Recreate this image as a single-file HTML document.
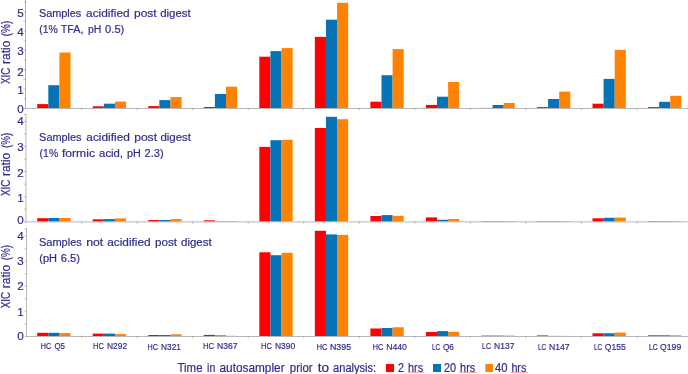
<!DOCTYPE html>
<html><head><meta charset="utf-8"><style>
html,body{margin:0;padding:0;background:#fff;}
svg{display:block;}
text{font-family:"Liberation Sans",sans-serif;fill:#2E2D88;stroke:#2E2D88;stroke-width:0.2px;}
svg{will-change:transform;}
</style></head><body>
<svg width="688" height="374" viewBox="0 0 688 374">
<rect width="688" height="374" fill="#fff"/>
<rect x="37.21" y="104.10" width="11.11" height="3.90" fill="#FF0000"/>
<rect x="48.31" y="85.20" width="11.11" height="22.80" fill="#0673B6"/>
<rect x="59.42" y="52.50" width="11.11" height="55.50" fill="#FF8200"/>
<rect x="92.74" y="106.30" width="11.11" height="1.70" fill="#FF0000"/>
<rect x="103.84" y="103.70" width="11.11" height="4.30" fill="#0673B6"/>
<rect x="114.95" y="101.60" width="11.11" height="6.40" fill="#FF8200"/>
<rect x="148.27" y="106.10" width="11.11" height="1.90" fill="#FF0000"/>
<rect x="159.37" y="100.10" width="11.11" height="7.90" fill="#0673B6"/>
<rect x="170.48" y="97.10" width="11.11" height="10.90" fill="#FF8200"/>
<rect x="203.80" y="107.00" width="11.11" height="1.00" fill="#FF0000"/>
<rect x="214.90" y="94.00" width="11.11" height="14.00" fill="#0673B6"/>
<rect x="226.01" y="86.70" width="11.11" height="21.30" fill="#FF8200"/>
<rect x="259.33" y="56.70" width="11.11" height="51.30" fill="#FF0000"/>
<rect x="270.43" y="51.10" width="11.11" height="56.90" fill="#0673B6"/>
<rect x="281.54" y="48.10" width="11.11" height="59.90" fill="#FF8200"/>
<rect x="314.86" y="36.90" width="11.11" height="71.10" fill="#FF0000"/>
<rect x="325.96" y="19.70" width="11.11" height="88.30" fill="#0673B6"/>
<rect x="337.07" y="2.80" width="11.11" height="105.20" fill="#FF8200"/>
<rect x="370.39" y="101.70" width="11.11" height="6.30" fill="#FF0000"/>
<rect x="381.49" y="75.20" width="11.11" height="32.80" fill="#0673B6"/>
<rect x="392.60" y="49.10" width="11.11" height="58.90" fill="#FF8200"/>
<rect x="425.92" y="104.90" width="11.11" height="3.10" fill="#FF0000"/>
<rect x="437.02" y="96.70" width="11.11" height="11.30" fill="#0673B6"/>
<rect x="448.13" y="82.00" width="11.11" height="26.00" fill="#FF8200"/>
<rect x="481.45" y="107.90" width="11.11" height="0.10" fill="#FF0000"/>
<rect x="492.55" y="105.00" width="11.11" height="3.00" fill="#0673B6"/>
<rect x="503.66" y="103.00" width="11.11" height="5.00" fill="#FF8200"/>
<rect x="536.98" y="107.10" width="11.11" height="0.90" fill="#FF0000"/>
<rect x="548.08" y="99.00" width="11.11" height="9.00" fill="#0673B6"/>
<rect x="559.19" y="91.60" width="11.11" height="16.40" fill="#FF8200"/>
<rect x="592.51" y="103.70" width="11.11" height="4.30" fill="#FF0000"/>
<rect x="603.61" y="78.90" width="11.11" height="29.10" fill="#0673B6"/>
<rect x="614.72" y="49.90" width="11.11" height="58.10" fill="#FF8200"/>
<rect x="648.04" y="107.10" width="11.11" height="0.90" fill="#FF0000"/>
<rect x="659.14" y="101.80" width="11.11" height="6.20" fill="#0673B6"/>
<rect x="670.25" y="95.80" width="11.11" height="12.20" fill="#FF8200"/>
<rect x="37.21" y="218.20" width="11.11" height="3.40" fill="#FF0000"/>
<rect x="48.31" y="218.00" width="11.11" height="3.60" fill="#0673B6"/>
<rect x="59.42" y="218.00" width="11.11" height="3.60" fill="#FF8200"/>
<rect x="92.74" y="219.30" width="11.11" height="2.30" fill="#FF0000"/>
<rect x="103.84" y="219.10" width="11.11" height="2.50" fill="#0673B6"/>
<rect x="114.95" y="218.40" width="11.11" height="3.20" fill="#FF8200"/>
<rect x="148.27" y="220.00" width="11.11" height="1.60" fill="#FF0000"/>
<rect x="159.37" y="220.00" width="11.11" height="1.60" fill="#0673B6"/>
<rect x="170.48" y="219.10" width="11.11" height="2.50" fill="#FF8200"/>
<rect x="203.80" y="220.30" width="11.11" height="1.30" fill="#FF0000"/>
<rect x="214.90" y="221.20" width="11.11" height="0.40" fill="#0673B6"/>
<rect x="226.01" y="221.20" width="11.11" height="0.40" fill="#FF8200"/>
<rect x="259.33" y="146.90" width="11.11" height="74.70" fill="#FF0000"/>
<rect x="270.43" y="140.20" width="11.11" height="81.40" fill="#0673B6"/>
<rect x="281.54" y="139.80" width="11.11" height="81.80" fill="#FF8200"/>
<rect x="314.86" y="128.00" width="11.11" height="93.60" fill="#FF0000"/>
<rect x="325.96" y="116.80" width="11.11" height="104.80" fill="#0673B6"/>
<rect x="337.07" y="119.20" width="11.11" height="102.40" fill="#FF8200"/>
<rect x="370.39" y="216.00" width="11.11" height="5.60" fill="#FF0000"/>
<rect x="381.49" y="215.10" width="11.11" height="6.50" fill="#0673B6"/>
<rect x="392.60" y="215.80" width="11.11" height="5.80" fill="#FF8200"/>
<rect x="425.92" y="217.40" width="11.11" height="4.20" fill="#FF0000"/>
<rect x="437.02" y="219.80" width="11.11" height="1.80" fill="#0673B6"/>
<rect x="448.13" y="219.00" width="11.11" height="2.60" fill="#FF8200"/>
<rect x="481.45" y="221.10" width="11.11" height="0.50" fill="#FF0000"/>
<rect x="492.55" y="221.10" width="11.11" height="0.50" fill="#0673B6"/>
<rect x="503.66" y="221.10" width="11.11" height="0.50" fill="#FF8200"/>
<rect x="536.98" y="221.10" width="11.11" height="0.50" fill="#FF0000"/>
<rect x="548.08" y="221.10" width="11.11" height="0.50" fill="#0673B6"/>
<rect x="559.19" y="221.10" width="11.11" height="0.50" fill="#FF8200"/>
<rect x="592.51" y="218.30" width="11.11" height="3.30" fill="#FF0000"/>
<rect x="603.61" y="217.80" width="11.11" height="3.80" fill="#0673B6"/>
<rect x="614.72" y="217.60" width="11.11" height="4.00" fill="#FF8200"/>
<rect x="648.04" y="221.00" width="11.11" height="0.60" fill="#FF0000"/>
<rect x="659.14" y="221.00" width="11.11" height="0.60" fill="#0673B6"/>
<rect x="670.25" y="221.00" width="11.11" height="0.60" fill="#FF8200"/>
<rect x="37.21" y="332.80" width="11.11" height="3.20" fill="#FF0000"/>
<rect x="48.31" y="332.80" width="11.11" height="3.20" fill="#0673B6"/>
<rect x="59.42" y="333.10" width="11.11" height="2.90" fill="#FF8200"/>
<rect x="92.74" y="333.60" width="11.11" height="2.40" fill="#FF0000"/>
<rect x="103.84" y="333.60" width="11.11" height="2.40" fill="#0673B6"/>
<rect x="114.95" y="334.10" width="11.11" height="1.90" fill="#FF8200"/>
<rect x="148.27" y="335.00" width="11.11" height="1.00" fill="#FF0000"/>
<rect x="159.37" y="335.00" width="11.11" height="1.00" fill="#0673B6"/>
<rect x="170.48" y="334.30" width="11.11" height="1.70" fill="#FF8200"/>
<rect x="203.80" y="334.90" width="11.11" height="1.10" fill="#FF0000"/>
<rect x="214.90" y="335.40" width="11.11" height="0.60" fill="#0673B6"/>
<rect x="226.01" y="335.80" width="11.11" height="0.20" fill="#FF8200"/>
<rect x="259.33" y="252.30" width="11.11" height="83.70" fill="#FF0000"/>
<rect x="270.43" y="255.20" width="11.11" height="80.80" fill="#0673B6"/>
<rect x="281.54" y="252.80" width="11.11" height="83.20" fill="#FF8200"/>
<rect x="314.86" y="230.80" width="11.11" height="105.20" fill="#FF0000"/>
<rect x="325.96" y="234.40" width="11.11" height="101.60" fill="#0673B6"/>
<rect x="337.07" y="234.90" width="11.11" height="101.10" fill="#FF8200"/>
<rect x="370.39" y="328.50" width="11.11" height="7.50" fill="#FF0000"/>
<rect x="381.49" y="328.00" width="11.11" height="8.00" fill="#0673B6"/>
<rect x="392.60" y="327.30" width="11.11" height="8.70" fill="#FF8200"/>
<rect x="425.92" y="332.00" width="11.11" height="4.00" fill="#FF0000"/>
<rect x="437.02" y="331.10" width="11.11" height="4.90" fill="#0673B6"/>
<rect x="448.13" y="331.80" width="11.11" height="4.20" fill="#FF8200"/>
<rect x="481.45" y="335.60" width="11.11" height="0.40" fill="#FF0000"/>
<rect x="492.55" y="335.60" width="11.11" height="0.40" fill="#0673B6"/>
<rect x="503.66" y="335.60" width="11.11" height="0.40" fill="#FF8200"/>
<rect x="536.98" y="335.40" width="11.11" height="0.60" fill="#FF0000"/>
<rect x="548.08" y="335.90" width="11.11" height="0.10" fill="#0673B6"/>
<rect x="559.19" y="335.90" width="11.11" height="0.10" fill="#FF8200"/>
<rect x="592.51" y="333.30" width="11.11" height="2.70" fill="#FF0000"/>
<rect x="603.61" y="333.30" width="11.11" height="2.70" fill="#0673B6"/>
<rect x="614.72" y="332.60" width="11.11" height="3.40" fill="#FF8200"/>
<rect x="648.04" y="335.30" width="11.11" height="0.70" fill="#FF0000"/>
<rect x="659.14" y="335.30" width="11.11" height="0.70" fill="#0673B6"/>
<rect x="670.25" y="335.30" width="11.11" height="0.70" fill="#FF8200"/>
<rect x="25.00" y="0.00" width="1.00" height="109.00" fill="#B8B8B8"/>
<rect x="25.00" y="108.00" width="663.00" height="1.00" fill="#B8B8B8"/>
<rect x="23.50" y="107.90" width="2.50" height="1.00" fill="#7A7A7A" opacity="0.4"/>
<rect x="23.50" y="98.24" width="2.50" height="1.00" fill="#7A7A7A" opacity="0.4"/>
<rect x="23.50" y="88.57" width="2.50" height="1.00" fill="#7A7A7A" opacity="0.4"/>
<rect x="23.50" y="78.91" width="2.50" height="1.00" fill="#7A7A7A" opacity="0.4"/>
<rect x="23.50" y="69.24" width="2.50" height="1.00" fill="#7A7A7A" opacity="0.4"/>
<rect x="23.50" y="59.58" width="2.50" height="1.00" fill="#7A7A7A" opacity="0.4"/>
<rect x="23.50" y="49.91" width="2.50" height="1.00" fill="#7A7A7A" opacity="0.4"/>
<rect x="23.50" y="40.25" width="2.50" height="1.00" fill="#7A7A7A" opacity="0.4"/>
<rect x="23.50" y="30.58" width="2.50" height="1.00" fill="#7A7A7A" opacity="0.4"/>
<rect x="23.50" y="20.92" width="2.50" height="1.00" fill="#7A7A7A" opacity="0.4"/>
<rect x="23.50" y="11.25" width="2.50" height="1.00" fill="#7A7A7A" opacity="0.4"/>
<rect x="23.50" y="1.59" width="2.50" height="1.00" fill="#7A7A7A" opacity="0.4"/>
<rect x="81.13" y="108.00" width="1.00" height="2.50" fill="#7A7A7A" opacity="0.4"/>
<rect x="136.66" y="108.00" width="1.00" height="2.50" fill="#7A7A7A" opacity="0.4"/>
<rect x="192.19" y="108.00" width="1.00" height="2.50" fill="#7A7A7A" opacity="0.4"/>
<rect x="247.72" y="108.00" width="1.00" height="2.50" fill="#7A7A7A" opacity="0.4"/>
<rect x="303.25" y="108.00" width="1.00" height="2.50" fill="#7A7A7A" opacity="0.4"/>
<rect x="358.78" y="108.00" width="1.00" height="2.50" fill="#7A7A7A" opacity="0.4"/>
<rect x="414.31" y="108.00" width="1.00" height="2.50" fill="#7A7A7A" opacity="0.4"/>
<rect x="469.84" y="108.00" width="1.00" height="2.50" fill="#7A7A7A" opacity="0.4"/>
<rect x="525.37" y="108.00" width="1.00" height="2.50" fill="#7A7A7A" opacity="0.4"/>
<rect x="580.90" y="108.00" width="1.00" height="2.50" fill="#7A7A7A" opacity="0.4"/>
<rect x="636.43" y="108.00" width="1.00" height="2.50" fill="#7A7A7A" opacity="0.4"/>
<rect x="25.40" y="114.00" width="1.00" height="108.40" fill="#B8B8B8"/>
<rect x="25.40" y="221.40" width="662.60" height="1.00" fill="#B8B8B8"/>
<rect x="23.90" y="221.26" width="2.50" height="1.00" fill="#7A7A7A" opacity="0.4"/>
<rect x="23.90" y="208.72" width="2.50" height="1.00" fill="#7A7A7A" opacity="0.4"/>
<rect x="23.90" y="196.18" width="2.50" height="1.00" fill="#7A7A7A" opacity="0.4"/>
<rect x="23.90" y="183.64" width="2.50" height="1.00" fill="#7A7A7A" opacity="0.4"/>
<rect x="23.90" y="171.10" width="2.50" height="1.00" fill="#7A7A7A" opacity="0.4"/>
<rect x="23.90" y="158.56" width="2.50" height="1.00" fill="#7A7A7A" opacity="0.4"/>
<rect x="23.90" y="146.02" width="2.50" height="1.00" fill="#7A7A7A" opacity="0.4"/>
<rect x="23.90" y="133.48" width="2.50" height="1.00" fill="#7A7A7A" opacity="0.4"/>
<rect x="23.90" y="120.94" width="2.50" height="1.00" fill="#7A7A7A" opacity="0.4"/>
<rect x="23.90" y="114.00" width="2.50" height="1.00" fill="#7A7A7A" opacity="0.4"/>
<rect x="81.13" y="221.40" width="1.00" height="2.50" fill="#7A7A7A" opacity="0.4"/>
<rect x="136.66" y="221.40" width="1.00" height="2.50" fill="#7A7A7A" opacity="0.4"/>
<rect x="192.19" y="221.40" width="1.00" height="2.50" fill="#7A7A7A" opacity="0.4"/>
<rect x="247.72" y="221.40" width="1.00" height="2.50" fill="#7A7A7A" opacity="0.4"/>
<rect x="303.25" y="221.40" width="1.00" height="2.50" fill="#7A7A7A" opacity="0.4"/>
<rect x="358.78" y="221.40" width="1.00" height="2.50" fill="#7A7A7A" opacity="0.4"/>
<rect x="414.31" y="221.40" width="1.00" height="2.50" fill="#7A7A7A" opacity="0.4"/>
<rect x="469.84" y="221.40" width="1.00" height="2.50" fill="#7A7A7A" opacity="0.4"/>
<rect x="525.37" y="221.40" width="1.00" height="2.50" fill="#7A7A7A" opacity="0.4"/>
<rect x="580.90" y="221.40" width="1.00" height="2.50" fill="#7A7A7A" opacity="0.4"/>
<rect x="636.43" y="221.40" width="1.00" height="2.50" fill="#7A7A7A" opacity="0.4"/>
<rect x="26.00" y="228.30" width="1.00" height="108.70" fill="#B8B8B8"/>
<rect x="26.00" y="336.00" width="662.00" height="1.00" fill="#B8B8B8"/>
<rect x="24.50" y="335.75" width="2.50" height="1.00" fill="#7A7A7A" opacity="0.4"/>
<rect x="24.50" y="323.25" width="2.50" height="1.00" fill="#7A7A7A" opacity="0.4"/>
<rect x="24.50" y="310.74" width="2.50" height="1.00" fill="#7A7A7A" opacity="0.4"/>
<rect x="24.50" y="298.24" width="2.50" height="1.00" fill="#7A7A7A" opacity="0.4"/>
<rect x="24.50" y="285.73" width="2.50" height="1.00" fill="#7A7A7A" opacity="0.4"/>
<rect x="24.50" y="273.23" width="2.50" height="1.00" fill="#7A7A7A" opacity="0.4"/>
<rect x="24.50" y="260.72" width="2.50" height="1.00" fill="#7A7A7A" opacity="0.4"/>
<rect x="24.50" y="248.21" width="2.50" height="1.00" fill="#7A7A7A" opacity="0.4"/>
<rect x="24.50" y="235.71" width="2.50" height="1.00" fill="#7A7A7A" opacity="0.4"/>
<rect x="24.50" y="228.30" width="2.50" height="1.00" fill="#7A7A7A" opacity="0.4"/>
<rect x="81.13" y="336.00" width="1.00" height="2.50" fill="#7A7A7A" opacity="0.4"/>
<rect x="136.66" y="336.00" width="1.00" height="2.50" fill="#7A7A7A" opacity="0.4"/>
<rect x="192.19" y="336.00" width="1.00" height="2.50" fill="#7A7A7A" opacity="0.4"/>
<rect x="247.72" y="336.00" width="1.00" height="2.50" fill="#7A7A7A" opacity="0.4"/>
<rect x="303.25" y="336.00" width="1.00" height="2.50" fill="#7A7A7A" opacity="0.4"/>
<rect x="358.78" y="336.00" width="1.00" height="2.50" fill="#7A7A7A" opacity="0.4"/>
<rect x="414.31" y="336.00" width="1.00" height="2.50" fill="#7A7A7A" opacity="0.4"/>
<rect x="469.84" y="336.00" width="1.00" height="2.50" fill="#7A7A7A" opacity="0.4"/>
<rect x="525.37" y="336.00" width="1.00" height="2.50" fill="#7A7A7A" opacity="0.4"/>
<rect x="580.90" y="336.00" width="1.00" height="2.50" fill="#7A7A7A" opacity="0.4"/>
<rect x="636.43" y="336.00" width="1.00" height="2.50" fill="#7A7A7A" opacity="0.4"/>
<defs><filter id="bl" x="-5%" y="-20%" width="110%" height="140%"><feGaussianBlur stdDeviation="0.3"/></filter></defs>
<g filter="url(#bl)">
<text x="23.60" y="113.00" font-size="11.6" text-anchor="end">0</text>
<text x="23.60" y="93.60" font-size="11.6" text-anchor="end">1</text>
<text x="23.60" y="75.50" font-size="11.6" text-anchor="end">2</text>
<text x="23.60" y="55.10" font-size="11.6" text-anchor="end">3</text>
<text x="23.60" y="36.00" font-size="11.6" text-anchor="end">4</text>
<text x="23.60" y="16.60" font-size="11.6" text-anchor="end">5</text>
<text x="23.60" y="223.90" font-size="11.6" text-anchor="end">0</text>
<text x="23.60" y="202.20" font-size="11.6" text-anchor="end">1</text>
<text x="23.60" y="176.50" font-size="11.6" text-anchor="end">2</text>
<text x="23.60" y="151.00" font-size="11.6" text-anchor="end">3</text>
<text x="23.60" y="124.70" font-size="11.6" text-anchor="end">4</text>
<text x="23.60" y="340.10" font-size="11.6" text-anchor="end">0</text>
<text x="23.60" y="316.00" font-size="11.6" text-anchor="end">1</text>
<text x="23.60" y="290.40" font-size="11.6" text-anchor="end">2</text>
<text x="23.60" y="265.30" font-size="11.6" text-anchor="end">3</text>
<text x="23.60" y="240.40" font-size="11.6" text-anchor="end">4</text>
<text x="38.90" y="16.70" font-size="11.7" textLength="42.40" lengthAdjust="spacingAndGlyphs">Samples</text>
<text x="86.10" y="16.70" font-size="11.7" textLength="43.50" lengthAdjust="spacingAndGlyphs">acidified</text>
<text x="134.00" y="16.70" font-size="11.7" textLength="22.70" lengthAdjust="spacingAndGlyphs">post</text>
<text x="160.20" y="16.70" font-size="11.7" textLength="30.51" lengthAdjust="spacingAndGlyphs">digest</text>
<text x="39.30" y="32.50" font-size="11.7" textLength="18.50" lengthAdjust="spacingAndGlyphs">(1%</text>
<text x="60.80" y="32.50" font-size="11.7" textLength="22.70" lengthAdjust="spacingAndGlyphs">TFA,</text>
<text x="88.00" y="32.50" font-size="11.7" textLength="13.40" lengthAdjust="spacingAndGlyphs">pH</text>
<text x="105.10" y="32.50" font-size="11.7" textLength="19.20" lengthAdjust="spacingAndGlyphs">0.5)</text>
<text x="39.10" y="140.50" font-size="11.7" textLength="42.50" lengthAdjust="spacingAndGlyphs">Samples</text>
<text x="86.30" y="140.50" font-size="11.7" textLength="43.60" lengthAdjust="spacingAndGlyphs">acidified</text>
<text x="134.20" y="140.50" font-size="11.7" textLength="22.80" lengthAdjust="spacingAndGlyphs">post</text>
<text x="160.40" y="140.50" font-size="11.7" textLength="30.61" lengthAdjust="spacingAndGlyphs">digest</text>
<text x="39.60" y="156.50" font-size="11.7" textLength="18.60" lengthAdjust="spacingAndGlyphs">(1%</text>
<text x="61.90" y="156.50" font-size="11.7" textLength="33.10" lengthAdjust="spacingAndGlyphs">formic</text>
<text x="99.10" y="156.50" font-size="11.7" textLength="23.90" lengthAdjust="spacingAndGlyphs">acid,</text>
<text x="127.00" y="156.50" font-size="11.7" textLength="13.80" lengthAdjust="spacingAndGlyphs">pH</text>
<text x="144.60" y="156.50" font-size="11.7" textLength="19.00" lengthAdjust="spacingAndGlyphs">2.3)</text>
<text x="39.00" y="245.80" font-size="11.7" textLength="42.80" lengthAdjust="spacingAndGlyphs">Samples</text>
<text x="86.20" y="245.80" font-size="11.7" textLength="17.10" lengthAdjust="spacingAndGlyphs">not</text>
<text x="107.20" y="245.80" font-size="11.7" textLength="43.50" lengthAdjust="spacingAndGlyphs">acidified</text>
<text x="155.10" y="245.80" font-size="11.7" textLength="21.90" lengthAdjust="spacingAndGlyphs">post</text>
<text x="181.00" y="245.80" font-size="11.7" textLength="30.71" lengthAdjust="spacingAndGlyphs">digest</text>
<text x="39.30" y="261.80" font-size="11.7" textLength="17.80" lengthAdjust="spacingAndGlyphs">(pH</text>
<text x="60.70" y="261.80" font-size="11.7" textLength="19.30" lengthAdjust="spacingAndGlyphs">6.5)</text>
<text transform="translate(9.8,84.00) rotate(-90)" x="-0.00" y="0" font-size="12.3" textLength="16.20" lengthAdjust="spacingAndGlyphs">XIC</text>
<text transform="translate(9.8,64.00) rotate(-90)" x="-0.00" y="0" font-size="12.3" textLength="23.30" lengthAdjust="spacingAndGlyphs">ratio</text>
<text transform="translate(9.8,36.30) rotate(-90)" x="-0.00" y="0" font-size="12.3" textLength="15.50" lengthAdjust="spacingAndGlyphs">(%)</text>
<text transform="translate(9.8,196.00) rotate(-90)" x="-0.00" y="0" font-size="12.3" textLength="16.40" lengthAdjust="spacingAndGlyphs">XIC</text>
<text transform="translate(9.8,176.10) rotate(-90)" x="-0.00" y="0" font-size="12.3" textLength="23.40" lengthAdjust="spacingAndGlyphs">ratio</text>
<text transform="translate(9.8,148.00) rotate(-90)" x="-0.00" y="0" font-size="12.3" textLength="15.30" lengthAdjust="spacingAndGlyphs">(%)</text>
<text transform="translate(9.8,308.20) rotate(-90)" x="-0.00" y="0" font-size="12.3" textLength="16.40" lengthAdjust="spacingAndGlyphs">XIC</text>
<text transform="translate(9.8,288.30) rotate(-90)" x="-0.00" y="0" font-size="12.3" textLength="23.40" lengthAdjust="spacingAndGlyphs">ratio</text>
<text transform="translate(9.8,260.30) rotate(-90)" x="-0.00" y="0" font-size="12.3" textLength="15.40" lengthAdjust="spacingAndGlyphs">(%)</text>
<text x="40.80" y="349.10" font-size="9.3" textLength="10.50" lengthAdjust="spacingAndGlyphs">HC</text>
<text x="54.40" y="349.10" font-size="9.3" textLength="10.50" lengthAdjust="spacingAndGlyphs">Q5</text>
<text x="93.00" y="349.10" font-size="9.3" textLength="10.80" lengthAdjust="spacingAndGlyphs">HC</text>
<text x="106.90" y="349.10" font-size="9.3" textLength="20.20" lengthAdjust="spacingAndGlyphs">N292</text>
<text x="147.60" y="350.00" font-size="9.3" textLength="10.40" lengthAdjust="spacingAndGlyphs">HC</text>
<text x="161.10" y="350.00" font-size="9.3" textLength="19.80" lengthAdjust="spacingAndGlyphs">N321</text>
<text x="203.00" y="349.10" font-size="9.3" textLength="11.10" lengthAdjust="spacingAndGlyphs">HC</text>
<text x="217.00" y="349.10" font-size="9.3" textLength="20.50" lengthAdjust="spacingAndGlyphs">N367</text>
<text x="261.00" y="349.20" font-size="9.3" textLength="10.80" lengthAdjust="spacingAndGlyphs">HC</text>
<text x="275.00" y="349.20" font-size="9.3" textLength="20.20" lengthAdjust="spacingAndGlyphs">N390</text>
<text x="316.70" y="350.10" font-size="9.3" textLength="10.60" lengthAdjust="spacingAndGlyphs">HC</text>
<text x="330.00" y="350.10" font-size="9.3" textLength="21.10" lengthAdjust="spacingAndGlyphs">N395</text>
<text x="372.70" y="350.10" font-size="9.3" textLength="10.50" lengthAdjust="spacingAndGlyphs">HC</text>
<text x="386.20" y="350.10" font-size="9.3" textLength="20.60" lengthAdjust="spacingAndGlyphs">N440</text>
<text x="431.90" y="349.70" font-size="9.3" textLength="8.10" lengthAdjust="spacingAndGlyphs">LC</text>
<text x="442.90" y="349.70" font-size="9.3" textLength="11.10" lengthAdjust="spacingAndGlyphs">Q6</text>
<text x="482.10" y="349.10" font-size="9.3" textLength="8.70" lengthAdjust="spacingAndGlyphs">LC</text>
<text x="494.00" y="349.10" font-size="9.3" textLength="20.40" lengthAdjust="spacingAndGlyphs">N137</text>
<text x="537.90" y="350.20" font-size="9.3" textLength="8.20" lengthAdjust="spacingAndGlyphs">LC</text>
<text x="549.00" y="350.20" font-size="9.3" textLength="20.60" lengthAdjust="spacingAndGlyphs">N147</text>
<text x="593.90" y="350.20" font-size="9.3" textLength="8.10" lengthAdjust="spacingAndGlyphs">LC</text>
<text x="604.80" y="350.20" font-size="9.3" textLength="20.90" lengthAdjust="spacingAndGlyphs">Q155</text>
<text x="648.90" y="350.20" font-size="9.3" textLength="8.80" lengthAdjust="spacingAndGlyphs">LC</text>
<text x="660.10" y="350.20" font-size="9.3" textLength="21.10" lengthAdjust="spacingAndGlyphs">Q199</text>
<text x="177.50" y="371.70" font-size="12" textLength="25.00" lengthAdjust="spacingAndGlyphs">Time</text>
<text x="207.10" y="371.70" font-size="12" textLength="8.20" lengthAdjust="spacingAndGlyphs">in</text>
<text x="219.50" y="371.70" font-size="12" textLength="65.10" lengthAdjust="spacingAndGlyphs">autosampler</text>
<text x="289.80" y="371.70" font-size="12" textLength="22.79" lengthAdjust="spacingAndGlyphs">prior</text>
<text x="317.70" y="371.70" font-size="12" textLength="11.30" lengthAdjust="spacingAndGlyphs">to</text>
<text x="333.10" y="371.70" font-size="12" textLength="43.10" lengthAdjust="spacingAndGlyphs">analysis:</text>
<rect x="386.00" y="364.00" width="8.00" height="8.00" fill="#FF0000"/>
<rect x="433.00" y="364.00" width="8.00" height="8.00" fill="#0673B6"/>
<rect x="485.30" y="364.00" width="7.70" height="8.00" fill="#FF8200"/>
<text x="397.90" y="371.70" font-size="12" textLength="6.00" lengthAdjust="spacingAndGlyphs">2</text>
<text x="408.10" y="371.70" font-size="12" textLength="15.00" lengthAdjust="spacingAndGlyphs">hrs</text>
<text x="444.00" y="371.70" font-size="12" textLength="12.00" lengthAdjust="spacingAndGlyphs">20</text>
<text x="460.10" y="371.70" font-size="12" textLength="15.10" lengthAdjust="spacingAndGlyphs">hrs</text>
<text x="494.90" y="371.70" font-size="12" textLength="12.50" lengthAdjust="spacingAndGlyphs">40</text>
<text x="511.40" y="371.70" font-size="12" textLength="14.90" lengthAdjust="spacingAndGlyphs">hrs</text>
<rect x="407.9" y="371.9" width="16.2" height="0.9" fill="#EE7777" opacity="0.75"/>
<rect x="458.8" y="371.9" width="18.1" height="0.9" fill="#EE7777" opacity="0.75"/>
<rect x="510.6" y="371.9" width="17.2" height="0.9" fill="#EE7777" opacity="0.75"/>
</g>
</svg>
</body></html>
